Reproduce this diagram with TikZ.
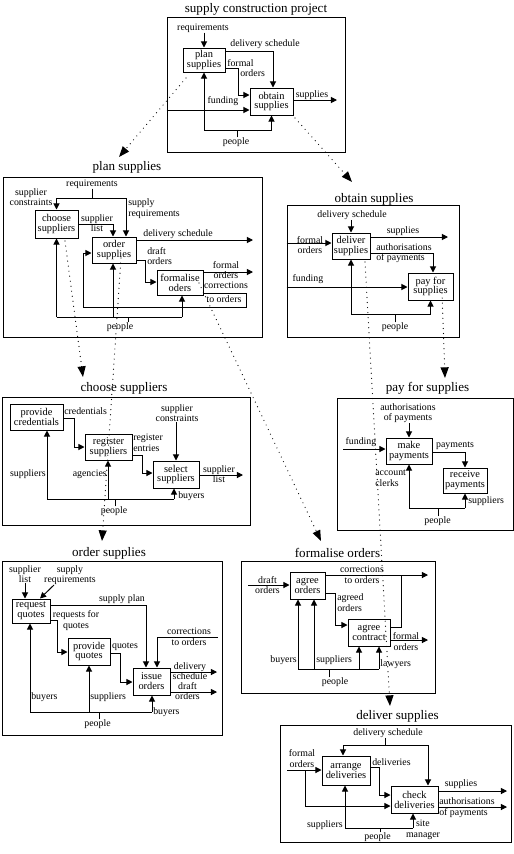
\documentclass[tikz,border=0pt]{standalone}
\usepackage{fontspec}
\setmainfont{Liberation Serif}
\usetikzlibrary{arrows.meta}
\tikzset{
  ln/.style={line width=0.75pt},
  arr/.style={line width=0.75pt,-{Triangle[length=4.6pt,width=4.6pt]}},
  dotarr/.style={line width=0.9pt,line cap=round,dash pattern=on 0pt off 3.8pt,-{Triangle[length=8pt,width=6pt]}},
  frm/.style={draw,line width=0.75pt,inner sep=0pt},
  bx/.style={draw,line width=0.75pt,inner sep=0pt,align=center,font=\fontsize{7.8}{7.4}\selectfont},
  lb/.style={inner sep=0pt,align=center,font=\fontsize{7.4}{7.9}\selectfont},
  lbl/.style={lb,align=left},
  ttl/.style={inner sep=0pt,font=\fontsize{9.8}{11}\selectfont},
}
\begin{document}
\begin{tikzpicture}[x=0.75pt,y=-0.75pt]
\fill[white] (0,0) rectangle (514,854);
\useasboundingbox (0,0) rectangle (514,854);

% ===== supply construction project
\node[ttl] (t0) at (256,9) {supply construction project};
\node[frm,minimum width=133.5pt,minimum height=101.25pt] (f0) at (256,84.5) {};
\node[bx,minimum width=31.5pt,minimum height=18pt] (plan) at (204,60) {plan\\supplies};
\node[bx,minimum width=32.25pt,minimum height=20.25pt] (obtain) at (271.5,101.5) {obtain\\supplies};
\node[lb] (req0) at (203,28) {requirements};
\node[lb] (ds0) at (265,44) {delivery schedule};
\node[lb,anchor=west] (fo0a) at (227,63) {formal};
\node[lb,anchor=west] (fo0b) at (240,73.5) {orders};
\node[lb] (sup0) at (312,95) {supplies};
\node[lb] (fund0) at (223,101) {funding};
\node[lb] (ppl0) at (236,142) {people};
\draw[arr] (plan.north |- req0.south) -- (plan.north);
\draw[arr] (plan.east |- 0,51) -| (obtain.north -| 273,0);
\draw[arr] (plan.east |- 0,68) -- (238,68) |- (obtain.west |- 0,95);
\draw[arr] (obtain.east |- 0,100) -- (337,100);
\draw[arr] (f0.west |- 0,110) -- (obtain.west |- 0,110);
\draw[arr] (obtain.south |- 0,130) -| (plan.south);
\draw[arr] (obtain.south |- 0,130) -- (obtain.south);
\draw[ln] (ppl0.north -| 237,0) -- (237,130);

% ===== plan supplies
\node[ttl] (t1) at (127,167) {plan supplies};
\node[frm,minimum width=194.25pt,minimum height=120pt] (f1) at (132.5,257) {};
\node[bx,minimum width=32.25pt,minimum height=21pt] (choose) at (56.5,224) {choose\\suppliers};
\node[bx,minimum width=33pt,minimum height=19.5pt] (order) at (114,250) {order\\supplies};
\node[bx,minimum width=34.5pt,minimum height=18.75pt] (formalise) at (180,282.5) {formalise\\oders};
\node[lb] (req1) at (92,184) {requirements};
\node[lb] (sc1) at (31,197) {supplier\\constraints};
\node[lbl,anchor=west] (sr1) at (128,208.5) {supply\\requirements};
\node[lb] (sl1) at (97,223) {supplier\\list};
\node[lb] (ds1) at (178,234) {delivery schedule};
\node[lbl,anchor=west] (do1) at (147,256) {draft\\orders};
\node[lb] (fo1) at (226,270) {formal\\orders};
\node[lb] (cor1a) at (226,285.5) {corrections};
\node[lb] (cor1b) at (224,299) {to orders};
\node[lb] (ppl1) at (120,327) {people};
\draw[ln] (req1.south) -- (req1.south |- 0,198);
\draw[arr] (choose.north |- 0,198) -- (choose.north);
\draw[arr] (choose.north |- 0,198) -- (126,198) -- (order.north -| 126,0);
\draw[arr] (choose.east |- 0,224) -| (order.north -| 113,0);
\draw[arr] (order.east |- 0,240) -- (253,240);
\draw[arr] (order.east |- 0,260) -- (145,260) |- (formalise.west |- 0,282);
\draw[arr] (formalise.east |- 0,272) -- (253,272);
\draw[arr] (formalise.east |- 0,293) -- (246,293) -- (246,307) -| (83,253) -- (order.west |- 0,253);
\draw[ln] (choose.south |- 0,317) -- (182,317);
\draw[arr] (choose.south |- 0,317) -- (choose.south);
\draw[arr] (113,317) -- (order.south -| 113,0);
\draw[arr] (182,317) -- (formalise.south -| 182,0);
\draw[ln] (ppl1.north -| 128,0) -- (128,317);

% ===== obtain supplies
\node[ttl] (t2) at (374,199) {obtain supplies};
\node[frm,minimum width=129pt,minimum height=99pt] (f2) at (373,271) {};
\node[bx,minimum width=28.5pt,minimum height=19.5pt] (deliver) at (351,246) {deliver\\supplies};
\node[bx,minimum width=33.75pt,minimum height=20.25pt] (pay) at (430.5,286.5) {pay for\\supplies};
\node[lb] (ds2) at (352,215) {delivery schedule};
\node[lb] (fo2) at (310,245) {formal\\orders};
\node[lb] (sup2) at (403,231) {supplies};
\node[lbl,anchor=west] (au2) at (376,253) {authorisations\\of payments};
\node[lb] (fund2) at (308,279) {funding};
\node[lb] (ppl2) at (395,327) {people};
\draw[arr] (deliver.north |- ds2.south) -- (deliver.north);
\draw[arr] (f2.west |- 0,243) -- (deliver.west |- 0,243);
\draw[arr] (deliver.east |- 0,237) -- (448,237);
\draw[arr] (deliver.east |- 0,253) -- (433,253) -- (pay.north -| 433,0);
\draw[arr] (f2.west |- 0,287) -- (pay.west |- 0,287);
\draw[ln] (deliver.south |- 0,314) -- (pay.south |- 0,314);
\draw[arr] (deliver.south |- 0,314) -- (deliver.south);
\draw[arr] (pay.south |- 0,314) -- (pay.south);
\draw[ln] (ppl2.north) -- (ppl2.north |- 0,314);

% ===== choose suppliers
\node[ttl] (t3) at (124,388) {choose suppliers};
\node[frm,minimum width=186pt,minimum height=96pt] (f3) at (126,461) {};
\node[bx,minimum width=39.75pt,minimum height=19.5pt] (provide) at (36.5,417) {provide\\credentials};
\node[bx,minimum width=35.25pt,minimum height=19.5pt] (register) at (108.5,447) {register\\suppliers};
\node[bx,minimum width=34.5pt,minimum height=20.25pt] (select) at (176,474.5) {select\\suppliers};
\node[lb,anchor=west] (cr3) at (64,411) {credentials};
\node[lbl,anchor=west] (re3) at (133,443) {register\\entries};
\node[lb] (sc3) at (177,413) {supplier\\constraints};
\node[lb] (sl3) at (219,474) {supplier\\list};
\node[lb,anchor=east] (sup3) at (46,474) {suppliers};
\node[lb,anchor=east] (ag3) at (107,474) {agencies};
\node[lb,anchor=west] (buy3) at (178,496) {buyers};
\node[lb] (ppl3) at (114,511) {people};
\draw[arr] (provide.east |- 0,418) -- (74,418) |- (register.west |- 0,447);
\draw[arr] (register.east |- 0,455) -- (142,455) |- (select.west |- 0,473);
\draw[arr] (select.north |- sc3.south) -- (select.north);
\draw[arr] (select.east |- 0,475) -- (243,475);
\draw[ln] (47,499) -- (174,499);
\draw[arr] (47,499) -- (provide.south -| 47,0);
\draw[arr] (108,499) -- (register.south -| 108,0);
\draw[arr] (174,499) -- (select.south -| 174,0);
\draw[ln] (ppl3.north -| 115,0) -- (115,499);

% ===== pay for supplies
\node[ttl] (t4) at (427.5,388) {pay for supplies};
\node[frm,minimum width=132pt,minimum height=99pt] (f4) at (425,464) {};
\node[bx,minimum width=34.5pt,minimum height=19.5pt] (make) at (409,451) {make\\payments};
\node[bx,minimum width=33pt,minimum height=18.75pt] (receive) at (465,480.5) {receive\\payments};
\node[lb] (ap4) at (408,413) {authorisations\\of payments};
\node[lb] (fund4) at (361,442) {funding};
\node[lb] (pay4) at (455,446) {payments};
\node[lbl,anchor=west] (ac4) at (375,478) {account\\clerks};
\node[lb,anchor=west] (sup4) at (468,501) {suppliers};
\node[lb] (ppl4) at (437.5,521) {people};
\draw[arr] (make.north |- ap4.south) -- (make.north);
\draw[arr] (343,449) -- (make.west |- 0,449);
\draw[arr] (make.east |- 0,452) -- (465,452) -- (receive.north -| 465,0);
\draw[ln] (make.south |- 0,508) -- (receive.south |- 0,508);
\draw[arr] (make.south |- 0,508) -- (make.south);
\draw[arr] (receive.south |- 0,508) -- (receive.south);
\draw[ln] (ppl4.north -| 438,0) -- (438,508);

% ===== order supplies
\node[ttl] (t5) at (109,553) {order supplies};
\node[frm,minimum width=165pt,minimum height=130.5pt] (f5) at (112,648) {};
\node[bx,minimum width=28.5pt,minimum height=18pt] (request) at (31,611) {request\\quotes};
\node[bx,minimum width=31.5pt,minimum height=20.25pt] (provideq) at (89,651.5) {provide\\quotes};
\node[bx,minimum width=27.75pt,minimum height=20.25pt] (issue) at (151.5,681.5) {issue\\orders};
\node[lb] (sl5) at (25,574) {supplier\\list};
\node[lb] (sr5) at (70,575) {supply\\requirements};
\node[lb] (sp5) at (122,599) {supply plan};
\node[lb] (rq5) at (76,620.5) {requests for\\quotes};
\node[lb] (q5) at (125,647) {quotes};
\node[lb] (cor5) at (189,637) {corrections\\to orders};
\node[lb] (dsc5) at (190,671) {delivery\\schedule};
\node[lb] (dro5) at (187.5,691) {draft\\orders};
\node[lb,anchor=west] (buy5a) at (31,697) {buyers};
\node[lb,anchor=west] (sup5) at (90,697) {suppliers};
\node[lb,anchor=west] (buy5b) at (153,712) {buyers};
\node[lb] (ppl5) at (97.5,724) {people};
\draw[arr] (sl5.south) -- (sl5.south |- request.north);
\draw[arr] (sr5.south -| 54,0) -- (request.north -| 40,0);
\draw[arr] (request.east |- 0,605) -- (146,605) -- (issue.north -| 146,0);
\draw[arr] (request.east |- 0,620) -- (57,620) |- (provideq.west |- 0,652);
\draw[arr] (provideq.east |- 0,653) -- (120,653) |- (issue.west |- 0,682);
\draw[arr] (218,637) -- (157,637) -- (issue.north -| 157,0);
\draw[arr] (issue.east |- 0,672) -- (217,672);
\draw[arr] (issue.east |- 0,692) -- (217,692);
\draw[ln] (30,712) -- (152,712);
\draw[arr] (30,712) -- (request.south -| 30,0);
\draw[arr] (89,712) -- (provideq.south -| 89,0);
\draw[arr] (152,712) -- (issue.south -| 152,0);
\draw[ln] (ppl5.north -| 99,0) -- (99,712);

% ===== formalise orders
\node[ttl] (t6) at (337.5,553) {formalise orders};
\node[frm,minimum width=145.5pt,minimum height=99pt] (f6) at (338,627) {};
\node[bx,minimum width=26.25pt,minimum height=20.25pt] (agreeo) at (307.5,585.5) {agree\\orders};
\node[bx,minimum width=31.5pt,minimum height=20.25pt] (agreec) at (369,632.5) {agree\\contract};
\node[lb] (do6) at (267.5,585) {draft\\orders};
\node[lb] (cor6) at (362,575) {corrections\\to orders};
\node[lbl,anchor=west] (ao6) at (337,602.5) {agreed\\orders};
\node[lb] (fo6) at (406,641.5) {formal\\orders};
\node[lb,anchor=east] (buy6) at (297,660) {buyers};
\node[lb,anchor=west] (sup6) at (316,660) {suppliers};
\node[lb,anchor=west] (law6) at (380,664) {lawyers};
\node[lb] (ppl6) at (335,682) {people};
\draw[arr] (248,585) -- (agreeo.west |- 0,585);
\draw[arr] (agreeo.east |- 0,575) -- (428,575);
\draw[ln] (agreec.east |- 0,627) -- (401,627) -- (401,575);
\draw[arr] (agreeo.east |- 0,593) -- (335,593) |- (agreec.west |- 0,625);
\draw[arr] (agreec.east |- 0,640) -- (428,640);
\draw[ln] (298,669) -- (379,669);
\draw[arr] (298,669) -- (agreeo.south -| 298,0);
\draw[arr] (314,669) -- (agreeo.south -| 314,0);
\draw[arr] (359,669) -- (agreec.south -| 359,0);
\draw[arr] (379,669) -- (agreec.south -| 379,0);
\draw[ln] (ppl6.north -| 329,0) -- (329,669);

% ===== deliver supplies
\node[ttl] (t7) at (397.5,716) {deliver supplies};
\node[frm,minimum width=173.25pt,minimum height=87.75pt] (f7) at (395.5,783.5) {};
\node[bx,minimum width=36pt,minimum height=21.75pt] (arrange) at (346,770.5) {arrange\\deliveries};
\node[bx,minimum width=35.25pt,minimum height=20.25pt] (check) at (414.5,799.5) {check\\deliveries};
\node[lb] (ds7) at (388,733) {delivery schedule};
\node[lb] (fo7) at (302,758.5) {formal\\orders};
\node[lb,anchor=west] (dl7) at (372,762) {deliveries};
\node[lb] (sup7) at (461,784) {supplies};
\node[lbl,anchor=west] (au7) at (439,807.5) {authorisations\\of payments};
\node[lb,anchor=east] (sup7b) at (343,825) {suppliers};
\node[lb] (sm7) at (423,830) {site\\manager};
\node[lb] (ppl7) at (377.5,837) {people};
\draw[ln] (ds7.south -| 385,0) -- (385,745);
\draw[ln] (343,745) -- (428,745);
\draw[arr] (343,745) -- (arrange.north -| 343,0);
\draw[arr] (428,745) -- (check.north -| 428,0);
\draw[arr] (287,770) -- (arrange.west |- 0,770);
\draw[arr] (305,770) |- (check.west |- 0,806);
\draw[arr] (arrange.east |- 0,767) -- (379,767) |- (check.west |- 0,795);
\draw[arr] (check.east |- 0,791) -- (507,791);
\draw[arr] (check.east |- 0,807) -- (507,807);
\draw[ln] (345,828) -- (413,828);
\draw[arr] (345,828) -- (arrange.south -| 345,0);
\draw[arr] (413,828) -- (check.south -| 413,0);
\draw[ln] (ppl7.north -| 380,0) -- (380,828);

% ===== decomposition links (dotted)
\draw[dotarr] (186,78) -- (119,157);
\draw[dotarr] (295,118) -- (352,182);
\draw[dotarr] (65,241) -- (83,377);
\draw[dotarr] (121,258) -- (102,541);
\draw[dotarr] (199,283) -- (321,541);
\draw[dotarr] (365,262) -- (390,706);
\draw[dotarr] (442,293) -- (445,378);
\end{tikzpicture}
\end{document}
